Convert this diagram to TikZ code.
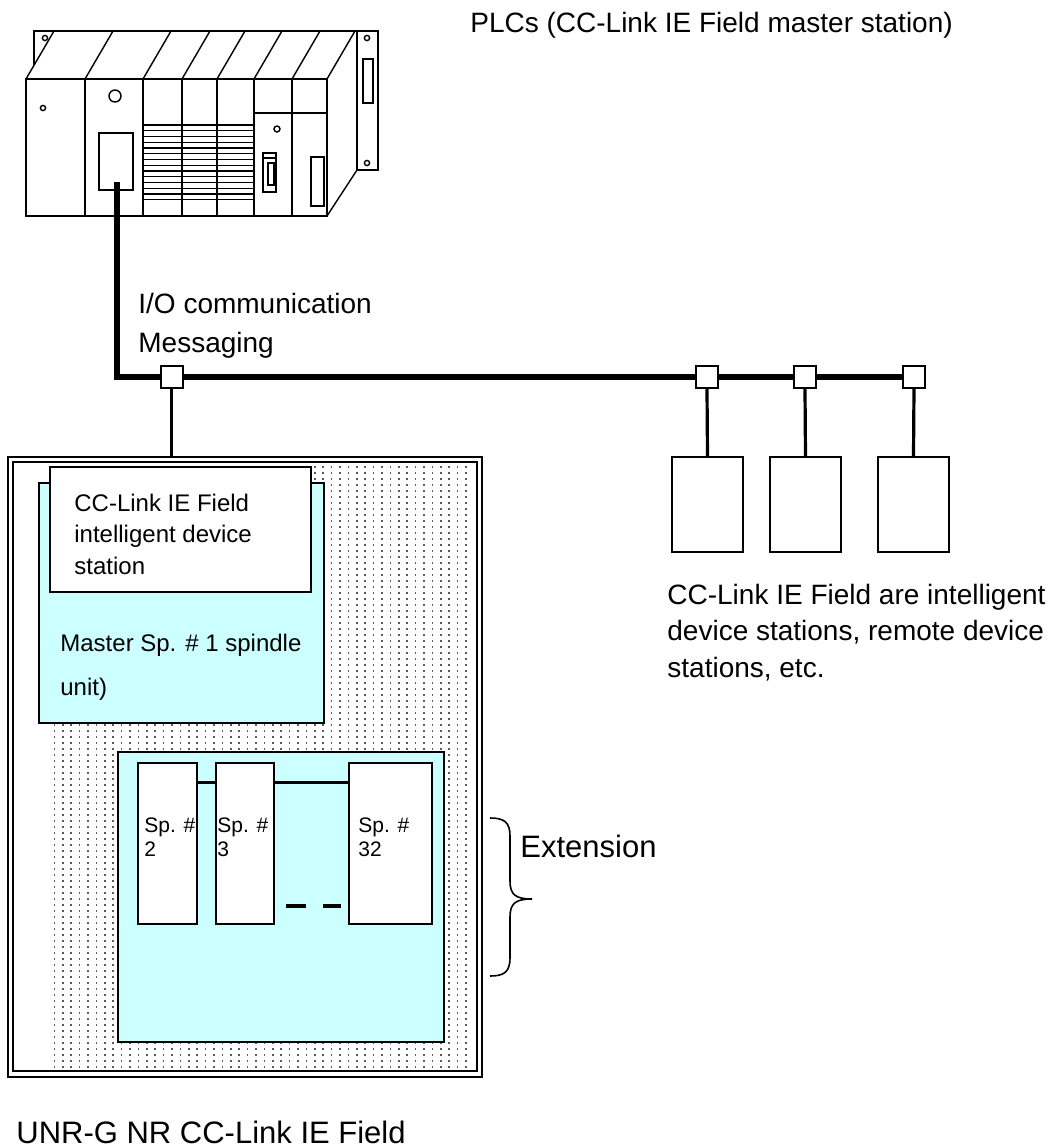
\documentclass[tikz,border=0pt]{standalone}
\usepackage{fontspec}
\setmainfont{Liberation Sans}
\usetikzlibrary{fit,positioning,patterns.meta}
\definecolor{unitCol}{HTML}{CCFFFF}
\definecolor{dotCol}{HTML}{5A5A5A}
\tikzdeclarepattern{
  name=unitdots,
  type=colored,
  bottom left={(-.5pt,-.5pt)},
  top right={(4.5pt,3.5pt)},
  tile size={(4.2pt,3pt)},
  code={\fill[dotCol] (1.6pt,1.1pt) rectangle (2.4pt,1.9pt);}
}
\newcommand{\fs}[2]{\fontsize{#1}{#2}\selectfont}
\tikzset{
  plc/.style={line width=0.7pt},
  bus/.style={line width=2.6pt},
  drop/.style={line width=1.6pt},
  tap/.style={draw, fill=white, line width=1pt, minimum size=11pt, inner sep=0pt},
  remote/.style={draw, line width=0.7pt, inner sep=0pt},
  outerbox/.style={draw, line width=1.3pt, inner sep=0pt},
  innerbox/.style={draw, line width=0.8pt, inner sep=0pt},
  unitbox/.style={draw, fill=unitCol, line width=1.2pt, inner sep=0pt},
  idbox/.style={draw, fill=white, line width=0.6pt, inner sep=0pt},
  spbox/.style={draw, fill=white, line width=0.8pt, inner sep=0pt},
  splink/.style={line width=1.5pt},
  ellip/.style={line width=2pt},
  brace/.style={line width=0.8pt},
  lbl/.style={inner sep=0pt, align=left, font=\fs{14}{18.25}},
  inlbl/.style={inner sep=0pt, align=left, font=\fs{12}{15.75}},
  splbl/.style={inner sep=0pt, align=left, font=\fs{10.5}{12}},
  biglbl/.style={inner sep=0pt, font=\fs{15.5}{18}},
}

\begin{document}
\begin{tikzpicture}[x=0.5pt,y=-0.5pt]
  \useasboundingbox (0,0) rectangle (1051,1148);

  % --- PLC rack ---
  \begin{scope}[plc]
    \draw (26,79) rectangle (327,216);
    \draw (34,65) -- (34,31) -- (378,31) -- (378,170) -- (357,170) -- (357,31);
    \foreach \xa in {26,85,143,182,217,254,292,327}
      \draw (\xa,79) -- ++(28,-48);
    \draw (327,216) -- (357,170);
    \foreach \xa in {85,143,182,217,254,292}
      \draw (\xa,79) -- (\xa,216);
    \draw (254,113) -- (327,113);
    % slots: io cards
    \foreach \v in {0,...,13}
      \draw (143,125+\v*5.75) -- (254,125+\v*5.75);
    % power / cpu
    \draw (45,38) circle (1.3pt) (43,108) circle (1.3pt);
    \draw (115,96) circle (3pt);
    \draw (99,133) rectangle (133,190);
    % network module
    \draw (277,129) circle (1.5pt);
    \draw (263,153) rectangle (276,192) (263,158) -- (276,158);
    \draw (268,163) rectangle (274,185);
    \draw (311,157) rectangle (324,206);
    % mounting plate
    \draw (367,38) circle (1.3pt) (367,163) circle (1.3pt);
    \draw (363,59) rectangle (373,103);
  \end{scope}
  \coordinate (plcport) at (117,182);
  \node[lbl, anchor=base west] (plcname) at (470,32) {PLCs (CC-Link IE Field master station)};

  % --- network ---
  \node[tap] (tap0) at (171.5,377) {};
  \node[tap] (tap1) at (707,377) {};
  \node[tap] (tap2) at (805,377) {};
  \node[tap] (tap3) at (914,377) {};
  \draw[bus] (plcport) |- (tap0.west);
  \draw[bus] (tap0.east) -- (tap1.west);
  \draw[bus] (tap1.east) -- (tap2.west);
  \draw[bus] (tap2.east) -- (tap3.west);
  \node[lbl, anchor=north west] (comm) at (138,292.5) {I/O communication\\[1.25pt]Messaging};

  \node[remote, fit={(672,457) (743,552)}] (rem1) {};
  \node[remote, fit={(770,457) (841,552)}] (rem2) {};
  \node[remote, fit={(878,457) (949,552)}] (rem3) {};
  \foreach \i in {1,2,3}
    \draw[drop] (tap\i.south) -- (rem\i.north);
  \node[lbl, anchor=north west] (remname) at (667,583.5)
    {CC-Link IE Field are intelligent\\device stations, remote device\\stations, etc.};

  % --- spindle unit ---
  \node[outerbox, fit={(8,457) (482,1077)}] (unit) {};
  \node[innerbox, fit={(13,462) (477,1071)}] (unitin) {};
  \fill[pattern=unitdots] (50,463) rectangle (473,1070);
  \draw[drop] (tap0.south) -- (tap0.south |- unit.north);

  \node[unitbox, fit={(39,483) (324,723)}] (master) {};
  \node[idbox, fit={(50,467) (311,592)}] (idstn) {};
  \node[inlbl, anchor=north west] (idname) at (74,493.5)
    {CC-Link IE Field\\intelligent device\\station};
  \node[inlbl, anchor=north west] (mastername) at (60,633.5)
    {Master Sp. \# 1 spindle\\[6.25pt]unit)};

  \node[unitbox, fit={(118,752) (444,1042)}] (ext) {};
  \node[spbox, fit={(138,763) (197,924)}] (sp2) {};
  \node[spbox, fit={(216,763) (274,924)}] (sp3) {};
  \node[spbox, fit={(349,763) (432,924)}] (sp32) {};
  \draw[splink] ([yshift=-10pt]sp2.north east) -- ([yshift=-10pt]sp3.north west);
  \draw[splink] ([yshift=-10pt]sp3.north east) -- ([yshift=-10pt]sp32.north west);
  \draw[ellip] (286,906) -- (306,906) (323,906) -- (341,906);
  \node[splbl, anchor=north west] (sp2name) at (144,817.7) {Sp. \#\\2};
  \node[splbl, anchor=north west] (sp3name) at (217,817.7) {Sp. \#\\3};
  \node[splbl, anchor=north west] (sp32name) at (358,817.7) {Sp. \#\\32};

  % extension brace
  \draw[brace] (490,818) .. controls (504,818) and (510,822) .. (510,836) -- (510,881)
    .. controls (510,895) and (516,899) .. (532,899)
    .. controls (516,899) and (510,903) .. (510,917) -- (510,958)
    .. controls (510,972) and (504,976) .. (490,976);
  \node[biglbl, anchor=base west] (extname) at (520,857) {Extension};

  \node[biglbl, anchor=base west] (unitname) at (16,1143) {UNR-G NR CC-Link IE Field};
\end{tikzpicture}
\end{document}
